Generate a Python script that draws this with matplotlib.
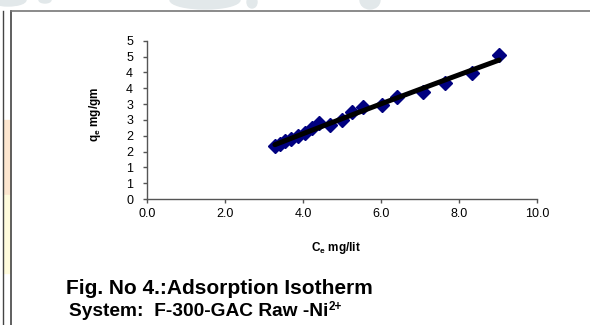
import numpy as np
import matplotlib
matplotlib.use("Agg")
import matplotlib.pyplot as plt
from matplotlib.patches import Rectangle, Ellipse
from matplotlib.lines import Line2D

plt.rcParams['font.family'] = ['Liberation Sans', 'DejaVu Sans']
plt.rcParams['mathtext.fontset'] = 'custom'
plt.rcParams['mathtext.rm'] = 'Liberation Sans:bold'
plt.rcParams['mathtext.it'] = 'Liberation Sans:bold'
plt.rcParams['mathtext.bf'] = 'Liberation Sans:bold'

# data
ce = [3.28, 3.42, 3.55, 3.70, 3.87, 4.05, 4.22, 4.40, 4.69, 5.00, 5.26, 5.54,
      6.03, 6.41, 7.08, 7.64, 8.33, 9.03]
qe = [1.67, 1.75, 1.82, 1.90, 2.00, 2.10, 2.24, 2.40, 2.33, 2.49, 2.74, 2.90,
      2.97, 3.22, 3.38, 3.66, 3.97, 4.54]
x_ticks = [0, 2, 4, 6, 8, 10]
x_tick_labels = ['0.0', '2.0', '4.0', '6.0', '8.0', '10.0']
y_ticks = [0, 0.5, 1, 1.5, 2, 2.5, 3, 3.5, 4, 4.5, 5]
y_tick_labels = ['0', '1', '1', '2', '2', '3', '3', '4', '4', '5', '5']

W, H = 590, 325
fig = plt.figure(figsize=(W / 100, H / 100), dpi=100)

def fx(px):
    return px / W

def fy(py):
    return 1 - py / H

# background decorations (watermark fragments and frame lines)
wm = '#e2e8ea'
for (cx, cy, w, h) in [(8, 0, 36, 12), (45, 0, 12, 6), (205, 0, 70, 18), (252, 2, 10, 12), (370, 0, 20, 18)]:
    fig.patches.append(Ellipse((fx(cx), fy(cy)), w / W, h / H, transform=fig.transFigure,
                               color=wm, zorder=0))
fig.patches.append(Rectangle((fx(3), fy(195)), 7 / W, 75 / H, transform=fig.transFigure,
                             color='#fde6cf', zorder=0))
fig.patches.append(Rectangle((fx(3), fy(273)), 7 / W, 78 / H, transform=fig.transFigure,
                             color='#fffbdc', zorder=0))
fig.lines.append(Line2D([fx(10.5), fx(10.5)], [fy(10.5), fy(325)], transform=fig.transFigure,
                        color='#444444', lw=1.2))
fig.lines.append(Line2D([fx(2.5), fx(2.5)], [fy(10.5), fy(325)], transform=fig.transFigure,
                        color='#444444', lw=1.0))
fig.lines.append(Line2D([fx(10.5), fx(590)], [fy(10.5), fy(10.5)], transform=fig.transFigure,
                        color='#777777', lw=1.2))

ax = fig.add_axes([fx(147), fy(199), (537 - 147) / W, (199 - 40.7) / H])
ax.set_xlim(0, 10)
ax.set_ylim(0, 5)
ax.patch.set_alpha(0)

ax.plot(ce, qe, linestyle='none', marker='D', markersize=7, color='#000080', zorder=3)

# power-law (Freundlich) trendline fitted to the points
lc = np.log(np.array(ce))
lq = np.log(np.array(qe))
n, lk = np.polyfit(lc, lq, 1)
xs = np.linspace(min(ce), max(ce), 100)
ax.plot(xs, np.exp(lk) * xs ** n, color='black', lw=3.6, solid_capstyle='round', zorder=4)

for s in ['top', 'right']:
    ax.spines[s].set_visible(False)
for s in ['left', 'bottom']:
    ax.spines[s].set_color('#555555')
    ax.spines[s].set_linewidth(1.0)
ax.set_xticks(x_ticks)
ax.set_xticklabels(x_tick_labels)
ax.set_yticks(y_ticks)
ax.set_yticklabels(y_tick_labels)
ax.tick_params(axis='both', direction='out', length=3, width=1, color='#555555',
               labelsize=9)
ax.tick_params(axis='y', pad=7)
ax.tick_params(axis='x', pad=3.5)

fig.text(fx(95), fy(114), 'q$_e$ mg/gm', fontsize=8.5, fontweight='bold',
         rotation=90, ha='center', va='center')
fig.text(fx(336), fy(248), 'C$_e$ mg/lit', fontsize=8.5, fontweight='bold',
         ha='center', va='center')

t1 = fig.text(fx(66), fy(288), 'Fig. No 4.:Adsorption Isotherm', fontsize=15,
              fontweight='bold', va='center', ha='left')
t2 = fig.text(fx(69), fy(311.5), 'System:  F-300-GAC Raw -Ni', fontsize=13.8,
              fontweight='bold', va='center', ha='left')
fig.canvas.draw()
bb = t2.get_window_extent(renderer=fig.canvas.get_renderer())
fig.text(bb.x1 / fig.bbox.width + 0.5 / W, fy(306.5), '2+', fontsize=8.5,
         fontweight='bold', va='center', ha='left')

fig.savefig('out.png', dpi=100)
